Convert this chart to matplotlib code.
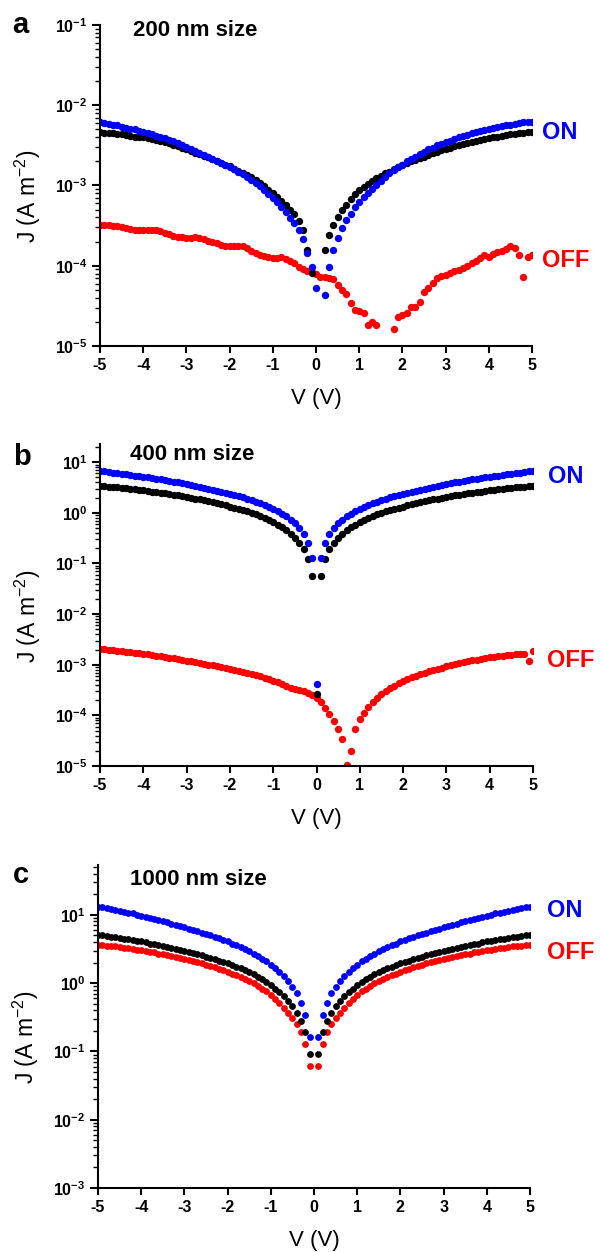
import numpy as np
import matplotlib
matplotlib.use('Agg')
import matplotlib.pyplot as plt
from matplotlib.ticker import LogLocator, FuncFormatter, NullFormatter, MultipleLocator

plt.rcParams['font.family'] = ['Liberation Sans', 'DejaVu Sans']
plt.rcParams['mathtext.fontset'] = 'custom'
plt.rcParams['mathtext.rm'] = 'Liberation Sans'
plt.rcParams['mathtext.bf'] = 'Liberation Sans:bold'
plt.rcParams['mathtext.it'] = 'Liberation Sans:italic'
plt.rcParams['mathtext.default'] = 'regular'

nan = np.nan

# voltage sweep, -5 V ... 5 V in 0.1 V steps
V = np.round(np.linspace(-5, 5, 101), 1)

# ---- panel a : 200 nm size, log10(J) ----
a_black = [-2.33, -2.34, -2.34, -2.35, -2.36, -2.36, -2.37, -2.38, -2.39, -2.39,
           -2.40, -2.41, -2.42, -2.43, -2.44, -2.46, -2.47, -2.49, -2.51, -2.53,
           -2.55, -2.57, -2.59, -2.61, -2.63, -2.65, -2.67, -2.69, -2.72, -2.74,
           -2.76, -2.79, -2.82, -2.84, -2.87, -2.90, -2.93, -2.97, -3.01, -3.05,
           -3.09, -3.14, -3.19, -3.24, -3.30, -3.36, -3.44, -3.55, -3.80, -4.09,
           nan,
           nan, -3.80, -3.62, -3.49, -3.39, -3.31, -3.24, -3.17, -3.11, -3.06,
           -3.02, -2.98, -2.94, -2.91, -2.88, -2.85, -2.83, -2.80, -2.77, -2.75,
           -2.72, -2.70, -2.68, -2.66, -2.64, -2.62, -2.60, -2.58, -2.56, -2.54,
           -2.53, -2.51, -2.50, -2.48, -2.47, -2.46, -2.44, -2.43, -2.42, -2.41,
           -2.40, -2.39, -2.38, -2.37, -2.36, -2.36, -2.35, -2.34, -2.33, -2.33]
a_on = [-2.21, -2.22, -2.23, -2.24, -2.25, -2.27, -2.28, -2.29, -2.30, -2.32,
        -2.33, -2.35, -2.36, -2.38, -2.40, -2.41, -2.43, -2.45, -2.47, -2.50,
        -2.52, -2.54, -2.57, -2.59, -2.62, -2.64, -2.67, -2.69, -2.72, -2.74,
        -2.77, -2.80, -2.83, -2.86, -2.89, -2.93, -2.97, -3.01, -3.06, -3.11,
        -3.16, -3.21, -3.27, -3.33, -3.40, -3.47, -3.55, -3.67, -3.84, -4.02,
        -4.28,
        nan, -4.36, -4.01, -3.80, -3.65, -3.53, -3.43, -3.35, -3.27, -3.20,
        -3.14, -3.09, -3.04, -2.99, -2.94, -2.89, -2.85, -2.81, -2.77, -2.74,
        -2.70, -2.67, -2.64, -2.61, -2.58, -2.55, -2.53, -2.50, -2.48, -2.46,
        -2.44, -2.42, -2.40, -2.38, -2.37, -2.35, -2.33, -2.32, -2.31, -2.29,
        -2.28, -2.27, -2.26, -2.24, -2.24, -2.23, -2.22, -2.21, -2.21, -2.21]
a_off = [-3.49, -3.49, -3.49, -3.50, -3.51, -3.52, -3.53, -3.54, -3.55, -3.55,
         -3.56, -3.55, -3.55, -3.55, -3.57, -3.59, -3.61, -3.63, -3.64, -3.64,
         -3.65, -3.65, -3.64, -3.65, -3.67, -3.69, -3.71, -3.72, -3.74, -3.75,
         -3.76, -3.76, -3.76, -3.76, -3.78, -3.81, -3.84, -3.87, -3.88, -3.89,
         -3.90, -3.90, -3.89, -3.91, -3.94, -3.97, -4.01, -4.04, -4.06, -4.08,
         -4.10,
         -4.14, -4.14, -4.15, -4.17, -4.24, -4.30, -4.35, -4.46, -4.55, -4.56,
         -4.59, -4.74, -4.70, -4.74, nan, nan, nan, -4.79, -4.64, -4.61,
         -4.59, -4.51, -4.51, -4.45, -4.33, -4.28, -4.22, -4.15, -4.13, -4.11,
         -4.09, -4.07, -4.05, -4.03, -4.00, -3.97, -3.94, -3.90, -3.87, -3.89,
         -3.85, -3.83, -3.81, -3.79, -3.76, -3.78, -3.87, -4.14, -3.89, -3.86]

# ---- panel b : 400 nm size ----
b_black = [0.54, 0.53, 0.52, 0.52, 0.51, 0.50, 0.49, 0.48, 0.47, 0.46,
           0.45, 0.43, 0.42, 0.41, 0.40, 0.39, 0.37, 0.36, 0.35, 0.33,
           0.32, 0.30, 0.28, 0.27, 0.25, 0.23, 0.21, 0.19, 0.17, 0.15,
           0.12, 0.10, 0.08, 0.05, 0.03, 0.00, -0.03, -0.07, -0.10, -0.14,
           -0.18, -0.23, -0.28, -0.34, -0.41, -0.49, -0.59, -0.72, -0.92, -1.24,
           -3.57,
           -1.24, -0.92, -0.72, -0.59, -0.49, -0.41, -0.34, -0.28, -0.23, -0.18,
           -0.14, -0.10, -0.07, -0.03, 0.00, 0.03, 0.05, 0.08, 0.10, 0.12,
           0.15, 0.17, 0.19, 0.21, 0.23, 0.25, 0.27, 0.28, 0.30, 0.32,
           0.33, 0.35, 0.36, 0.37, 0.39, 0.40, 0.41, 0.42, 0.43, 0.45,
           0.46, 0.47, 0.48, 0.49, 0.50, 0.51, 0.52, 0.52, 0.53, 0.54]
b_on = [0.83, 0.82, 0.80, 0.79, 0.78, 0.77, 0.76, 0.75, 0.73, 0.72,
        0.71, 0.70, 0.68, 0.67, 0.66, 0.64, 0.63, 0.61, 0.60, 0.58,
        0.57, 0.55, 0.54, 0.52, 0.50, 0.48, 0.46, 0.44, 0.42, 0.40,
        0.38, 0.35, 0.33, 0.31, 0.28, 0.25, 0.22, 0.19, 0.16, 0.12,
        0.08, 0.03, -0.02, -0.07, -0.14, -0.21, -0.30, -0.42, -0.60, -0.90,
        -3.38,
        -0.90, -0.60, -0.42, -0.30, -0.21, -0.14, -0.07, -0.02, 0.03, 0.08,
        0.12, 0.16, 0.19, 0.22, 0.25, 0.28, 0.31, 0.33, 0.35, 0.38,
        0.40, 0.42, 0.44, 0.46, 0.48, 0.50, 0.52, 0.54, 0.55, 0.57,
        0.58, 0.60, 0.61, 0.63, 0.64, 0.66, 0.67, 0.68, 0.70, 0.71,
        0.72, 0.73, 0.75, 0.76, 0.77, 0.78, 0.79, 0.80, 0.82, 0.83]
b_off = [-2.68, -2.69, -2.70, -2.71, -2.72, -2.73, -2.74, -2.75, -2.76, -2.77,
         -2.78, -2.79, -2.80, -2.82, -2.83, -2.84, -2.86, -2.87, -2.89, -2.90,
         -2.92, -2.93, -2.95, -2.96, -2.98, -3.00, -3.01, -3.03, -3.05, -3.06,
         -3.08, -3.10, -3.12, -3.14, -3.16, -3.18, -3.20, -3.23, -3.26, -3.29,
         -3.32, -3.35, -3.38, -3.42, -3.45, -3.48, -3.50, -3.52, -3.55, -3.59,
         -3.65,
         -3.74, -3.85, -3.97, -4.11, -4.27, -4.47, -4.98, -4.70, -4.27, -4.07,
         -3.95, -3.83, -3.74, -3.66, -3.58, -3.51, -3.46, -3.41, -3.37, -3.33,
         -3.29, -3.25, -3.22, -3.19, -3.16, -3.13, -3.10, -3.08, -3.06, -3.03,
         -3.01, -2.99, -2.97, -2.95, -2.93, -2.91, -2.90, -2.88, -2.87, -2.85,
         -2.84, -2.83, -2.82, -2.81, -2.80, -2.79, -2.78, -2.79, -2.92, -2.72]

# ---- panel c : 1000 nm size ----
c_black = [0.71, 0.70, 0.69, 0.68, 0.67, 0.66, 0.65, 0.64, 0.63, 0.62,
           0.61, 0.60, 0.58, 0.57, 0.56, 0.54, 0.53, 0.52, 0.50, 0.49,
           0.47, 0.46, 0.44, 0.42, 0.41, 0.39, 0.37, 0.35, 0.33, 0.31,
           0.29, 0.27, 0.24, 0.22, 0.19, 0.16, 0.13, 0.09, 0.06, 0.02,
           -0.03, -0.08, -0.13, -0.19, -0.26, -0.34, -0.43, -0.55, -0.72, -1.04,
           nan,
           -1.04, -0.72, -0.55, -0.43, -0.34, -0.26, -0.19, -0.13, -0.08, -0.03,
           0.02, 0.06, 0.09, 0.13, 0.16, 0.19, 0.22, 0.24, 0.27, 0.29,
           0.31, 0.33, 0.35, 0.37, 0.39, 0.41, 0.42, 0.44, 0.46, 0.47,
           0.49, 0.50, 0.52, 0.53, 0.54, 0.56, 0.57, 0.58, 0.60, 0.61,
           0.62, 0.63, 0.64, 0.65, 0.66, 0.67, 0.68, 0.69, 0.70, 0.71]
c_on = [1.12, 1.11, 1.10, 1.08, 1.07, 1.06, 1.04, 1.03, 1.02, 1.00,
        0.99, 0.97, 0.95, 0.94, 0.92, 0.91, 0.89, 0.87, 0.85, 0.84,
        0.82, 0.80, 0.78, 0.76, 0.74, 0.72, 0.70, 0.68, 0.66, 0.63,
        0.61, 0.58, 0.56, 0.53, 0.50, 0.47, 0.43, 0.40, 0.36, 0.32,
        0.27, 0.22, 0.16, 0.10, 0.03, -0.05, -0.15, -0.29, -0.47, -0.79,
        nan,
        -0.79, -0.47, -0.29, -0.15, -0.05, 0.03, 0.10, 0.16, 0.22, 0.27,
        0.32, 0.36, 0.40, 0.43, 0.47, 0.50, 0.53, 0.56, 0.58, 0.61,
        0.63, 0.66, 0.68, 0.70, 0.72, 0.74, 0.76, 0.78, 0.80, 0.82,
        0.84, 0.85, 0.87, 0.89, 0.91, 0.92, 0.94, 0.95, 0.97, 0.99,
        1.00, 1.02, 1.03, 1.04, 1.06, 1.07, 1.08, 1.10, 1.11, 1.12]
c_off = [0.56, 0.56, 0.55, 0.54, 0.54, 0.53, 0.52, 0.51, 0.50, 0.49,
         0.48, 0.47, 0.46, 0.45, 0.43, 0.42, 0.41, 0.40, 0.38, 0.37,
         0.35, 0.34, 0.32, 0.31, 0.29, 0.27, 0.25, 0.23, 0.21, 0.19,
         0.17, 0.14, 0.12, 0.09, 0.06, 0.03, 0.00, -0.04, -0.08, -0.12,
         -0.17, -0.23, -0.29, -0.36, -0.43, -0.51, -0.60, -0.72, -0.89, -1.21,
         nan,
         -1.21, -0.89, -0.72, -0.60, -0.51, -0.43, -0.36, -0.29, -0.23, -0.17,
         -0.12, -0.08, -0.04, 0.00, 0.03, 0.06, 0.09, 0.12, 0.14, 0.17,
         0.19, 0.21, 0.23, 0.25, 0.27, 0.29, 0.31, 0.32, 0.34, 0.35,
         0.37, 0.38, 0.40, 0.41, 0.42, 0.43, 0.45, 0.46, 0.47, 0.48,
         0.49, 0.50, 0.51, 0.52, 0.53, 0.54, 0.54, 0.55, 0.56, 0.56]

panels = [
    ('a', '200 nm size', a_black, a_on, a_off, (1e-5, 1e-1)),
    ('b', '400 nm size', b_black, b_on, b_off, (1e-5, 10 ** 1.36)),
    ('c', '1000 nm size', c_black, c_on, c_off, (1e-3, 10 ** 1.73)),
]

W, H = 600, 1252
# axes boxes in pixels: left, top, right, bottom
boxes = [(100, 25, 532, 346), (100, 444, 533, 766), (98, 865, 530, 1188)]
# text positions in pixels (x, baseline)
letter_pos = [(12, 33), (13, 465), (13, 883)]
title_pos = [(133, 36), (130, 460), (130, 885)]
on_pos = [(542, 139), (548, 483), (547, 917)]
off_pos = [(542, 267), (547, 667), (547, 959)]

BLUE = '#0000ff'
RED = '#ff0000'


def fx(x):
    return x / W


def fy(y):
    return 1 - y / H


def exp_fmt(y, pos):
    e = int(round(np.log10(y)))
    return r'$\mathbf{10^{%d}}$' % e


fig = plt.figure(figsize=(6, 12.52), dpi=100)

for i, (letter, title, blk, on, off, ylim) in enumerate(panels):
    l, t, r, b = boxes[i]
    ax = fig.add_axes([fx(l), fy(b), (r - l) / W, (b - t) / H])
    ms = 5.3 if i < 2 else 4.9
    ax.plot(V, 10 ** np.array(off), 'o', color=RED, ms=ms, mec='none')
    ax.plot(V, 10 ** np.array(blk), 'o', color='black', ms=ms, mec='none')
    ax.plot(V, 10 ** np.array(on), 'o', color=BLUE, ms=ms, mec='none')

    ax.set_yscale('log')
    ax.set_xlim(-5, 5)
    ax.set_ylim(*ylim)
    ax.xaxis.set_major_locator(MultipleLocator(1))
    ax.yaxis.set_major_locator(LogLocator(base=10, numticks=20))
    ax.yaxis.set_minor_locator(LogLocator(base=10, subs=np.arange(2, 10), numticks=20))
    ax.yaxis.set_major_formatter(FuncFormatter(exp_fmt))
    ax.yaxis.set_minor_formatter(NullFormatter())
    ax.xaxis.set_major_formatter(FuncFormatter(lambda x, p: '%d' % x))

    for s in ['top', 'right']:
        ax.spines[s].set_visible(False)
    for s in ['left', 'bottom']:
        ax.spines[s].set_linewidth(1.5)
    ax.tick_params(axis='x', which='major', direction='out', length=5, width=1.5, pad=4)
    ax.tick_params(axis='y', which='major', direction='out', length=6, width=1.5, pad=3)
    ax.tick_params(axis='y', which='minor', direction='out', length=3.5, width=1.0)
    for lab in ax.get_xticklabels() + ax.get_yticklabels():
        lab.set_fontsize(11.5)
        lab.set_fontweight('bold')

    ax.set_xlabel('V (V)', fontsize=16)
    ax.xaxis.set_label_coords(0.5, -0.163)
    ax.xaxis.label.set_va('center')
    ax.set_ylabel('J (A m$^{-2}$)', fontsize=16.5)
    ax.yaxis.set_label_coords(-0.167, 0.466)
    ax.yaxis.label.set_va('center')

    fig.text(fx(letter_pos[i][0]), fy(letter_pos[i][1]), letter, fontsize=21,
             fontweight='bold', va='baseline')
    fig.text(fx(title_pos[i][0]), fy(title_pos[i][1]), title, fontsize=16,
             fontweight='bold', va='baseline')
    fig.text(fx(on_pos[i][0]), fy(on_pos[i][1]), 'ON', fontsize=17,
             fontweight='bold', color=BLUE, va='baseline')
    fig.text(fx(off_pos[i][0]), fy(off_pos[i][1]), 'OFF', fontsize=17,
             fontweight='bold', color=RED, va='baseline')

fig.savefig('out.png', dpi=100)
